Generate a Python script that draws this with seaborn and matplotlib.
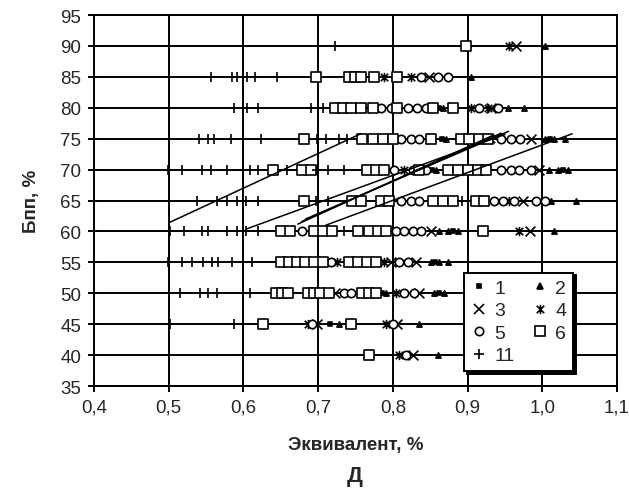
import matplotlib
matplotlib.use("Agg")
import matplotlib.pyplot as plt
from matplotlib.path import Path
import seaborn as sns

# rows of Бпп values (one row of points per gridline)
rows = [90, 85, 80, 75, 70, 65, 60, 55, 50, 45, 40]

# x positions (Эквивалент) of each series on every row
x_s1 = [[], [], [0.862], [0.866, 1.010], [0.852, 1.028], [], [0.880], [0.856],
        [0.786, 0.862], [0.716], []]
x_s2 = [[1.003], [0.905], [0.867, 0.954, 0.976], [0.871, 1.003, 1.016, 1.030],
        [0.858, 1.009, 1.021, 1.035], [1.012, 1.045], [0.862, 0.874, 0.887, 1.016],
        [0.851, 0.862, 0.874], [0.791, 0.855, 0.868], [0.728, 0.835], [0.860]]
x_s3 = [[0.965], [0.848], [0.932], [0.985], [0.995], [0.974], [0.851, 0.983],
        [0.797, 0.831], [0.723, 0.835], [0.699, 0.806], [0.827]]
x_s4 = [[0.955], [0.788, 0.824], [0.905, 0.927], [0.932], [0.815], [0.955], [0.969],
        [0.725, 0.788], [0.804], [0.686, 0.791], [0.808]]
x_s5 = [[], [0.838, 0.860, 0.874], [0.784, 0.797, 0.820, 0.833, 0.844, 0.915, 0.941],
        [0.811, 0.824, 0.835, 0.945, 0.958, 0.970],
        [0.801, 0.827, 0.844, 0.945, 0.958, 0.969, 0.985],
        [0.811, 0.824, 0.835, 0.936, 0.947, 0.962, 0.992, 1.003],
        [0.679, 0.804, 0.815, 0.827, 0.838], [0.717, 0.808, 0.820],
        [0.734, 0.744, 0.815, 0.828], [0.692, 0.800], [0.817]]
x_s6 = [[0.898], [0.697, 0.741, 0.750, 0.757, 0.775, 0.806],
        [0.723, 0.733, 0.744, 0.757, 0.773, 0.806, 0.854, 0.880],
        [0.681, 0.759, 0.773, 0.787, 0.800, 0.851, 0.891, 0.902, 0.915, 0.927],
        [0.640, 0.679, 0.690, 0.766, 0.777, 0.788, 0.835, 0.874, 0.887, 0.900, 0.914, 0.925],
        [0.681, 0.746, 0.757, 0.784, 0.795, 0.854, 0.867, 0.881, 0.911, 0.922],
        [0.650, 0.663, 0.694, 0.706, 0.719, 0.754, 0.768, 0.780, 0.791, 0.921],
        [0.650, 0.661, 0.672, 0.683, 0.694, 0.706, 0.741, 0.754, 0.766, 0.777],
        [0.643, 0.652, 0.660, 0.686, 0.694, 0.703, 0.714, 0.759, 0.768, 0.777],
        [0.626, 0.744], [0.768]]
x_s11 = [[0.723], [0.556, 0.585, 0.592, 0.605, 0.616, 0.645],
         [0.587, 0.605, 0.619, 0.690, 0.707],
         [0.540, 0.553, 0.560, 0.583, 0.599, 0.623, 0.699, 0.710, 0.728, 0.739],
         [0.499, 0.518, 0.545, 0.556, 0.578, 0.600, 0.609, 0.620, 0.659, 0.699, 0.713, 0.734],
         [0.538, 0.565, 0.578, 0.592, 0.603, 0.620, 0.697, 0.713, 0.893],
         [0.502, 0.520, 0.545, 0.553, 0.578, 0.592, 0.603, 0.620, 0.734],
         [0.499, 0.518, 0.531, 0.546, 0.558, 0.566, 0.585, 0.599, 0.612],
         [0.515, 0.542, 0.553, 0.565, 0.609], [0.502, 0.587], [0.600]]

# trend lines (start and end points)
trend_x0 = [0.500, 0.604, 0.673, 0.678, 0.683, 0.710]
trend_y0 = [61.4, 60.4, 61.2, 61.6, 62.0, 61.0]
trend_x1 = [0.757, 0.950, 0.935, 0.945, 0.955, 1.040]
trend_y1 = [75.8, 75.7, 75.6, 75.9, 76.2, 75.8]

x_ticks = [0.4, 0.5, 0.6, 0.7, 0.8, 0.9, 1.0, 1.1]
x_tick_labels = ["0,4", "0,5", "0,6", "0,7", "0,8", "0,9", "1,0", "1,1"]
y_ticks = [35, 40, 45, 50, 55, 60, 65, 70, 75, 80, 85, 90, 95]


def flatten(x_rows):
    xs, ys = [], []
    for y, row in zip(rows, x_rows):
        for x in row:
            xs.append(x)
            ys.append(y)
    return xs, ys


sns.set_style("white")
plt.rcParams["font.family"] = ["Liberation Sans", "DejaVu Sans"]

fig = plt.figure(figsize=(6.29, 5.02), dpi=100)
ax = fig.add_axes([0.1494, 0.229, 0.8315, 0.739])

asterisk = Path([(-1, -1), (1, 1), (-1, 1), (1, -1), (0, -1.25), (0, 1.25)],
                [Path.MOVETO, Path.LINETO] * 3)

# label, data, marker, size, face, edge
series = [
    ("1", x_s1, "s", 9, "black", "black"),
    ("2", x_s2, "^", 14, "black", "black"),
    ("3", x_s3, "x", 50, "black", "black"),
    ("4", x_s4, asterisk, 45, "black", "black"),
    ("5", x_s5, "o", 36, "white", "black"),
    ("6", x_s6, "s", 45, "white", "black"),
    ("11", x_s11, "+", 55, "black", "black"),
]

handles = {}
for label, data, marker, size, face, edge in series:
    xs, ys = flatten(data)
    sns.scatterplot(x=xs, y=ys, marker=marker, s=size, color=face, edgecolor=edge,
                    linewidth=1.2, ax=ax, zorder=4)
    handles[label] = plt.Line2D([], [], linestyle="none", marker=marker,
                                markersize=size ** 0.5, markerfacecolor=face,
                                markeredgecolor=edge, markeredgewidth=1.2,
                                color="black")

for x0, y0, x1, y1 in zip(trend_x0, trend_y0, trend_x1, trend_y1):
    sns.lineplot(x=[x0, x1], y=[y0, y1], color="black", linewidth=1.1,
                 sort=False, estimator=None, ax=ax, zorder=5)

ax.set_xlim(0.4, 1.1)
ax.set_ylim(35, 95)
ax.set_xticks(x_ticks)
ax.set_xticklabels(x_tick_labels)
ax.set_yticks(y_ticks)
ax.grid(True, color="black", linewidth=1.4)
ax.set_axisbelow(True)
for sp in ax.spines.values():
    sp.set_color("black")
    sp.set_linewidth(1.4)
ax.tick_params(direction="inout", length=8, width=1.4, color="black",
               labelsize=13.5, pad=5, left=True, bottom=True)

ax.set_xlabel("Эквивалент, %", fontsize=13.5, fontweight="bold", labelpad=15)
ax.set_ylabel("Бпп, %", fontsize=13.5, fontweight="bold", labelpad=15)
fig.text(0.564, 0.050, "Д", fontsize=16, fontweight="bold", ha="center", va="center")

order = ["1", "3", "5", "11", "2", "4", "6"]
leg = ax.legend([handles[k] for k in order], order, ncol=2, loc="lower right",
                bbox_to_anchor=(0.916, 0.04), fontsize=14, frameon=True,
                fancybox=False, shadow={"color": "black", "alpha": 1},
                edgecolor="black", framealpha=1, handletextpad=0.4,
                columnspacing=0.9, handlelength=0.8, borderpad=0.35,
                borderaxespad=0, labelspacing=0.25)
leg.get_frame().set_linewidth(1.4)
leg.set_zorder(10)

fig.savefig("out.png", dpi=100)
